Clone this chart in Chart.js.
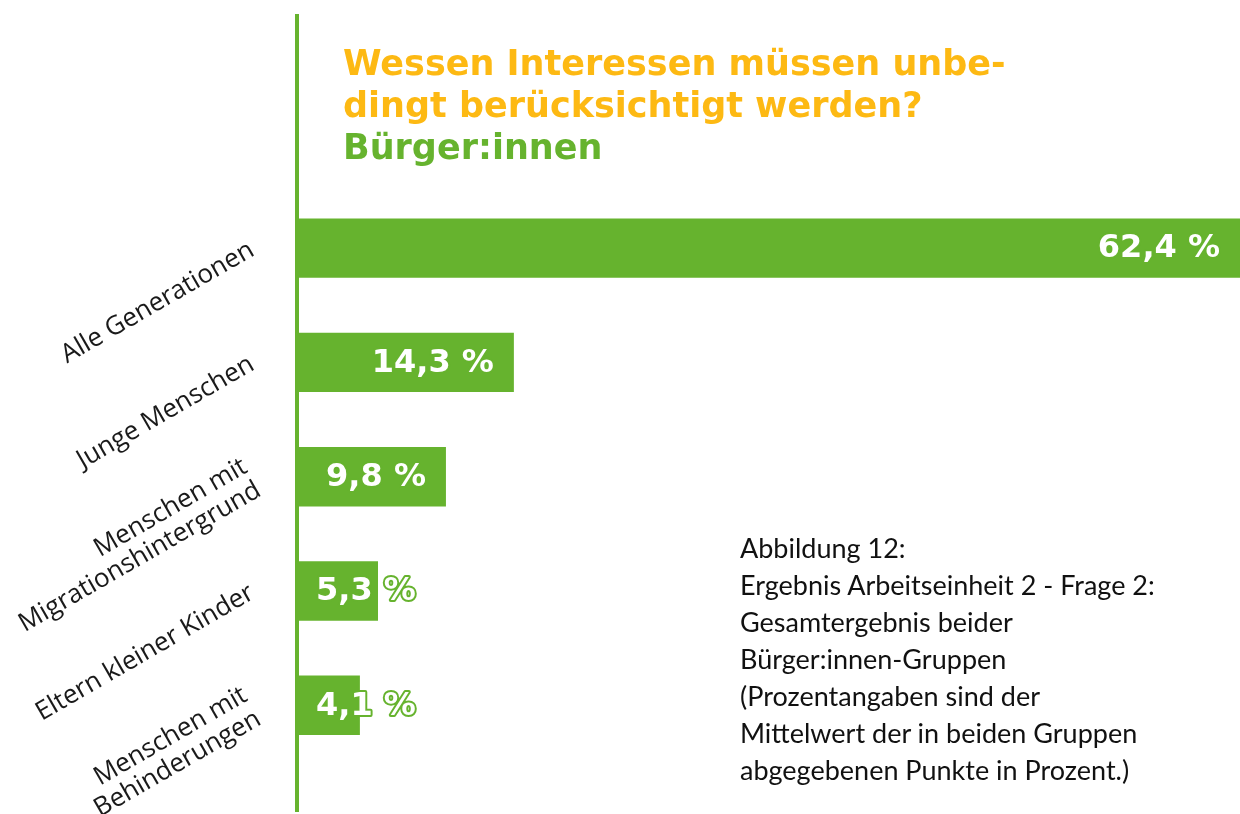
<!DOCTYPE html>
<html>
<head>
<meta charset="utf-8">
<script src="https://cdn.jsdelivr.net/npm/chart.js@4/dist/chart.umd.min.js"></script>
<style>
  body { margin: 0; background: #fff; }
  #wrap { position: relative; width: 1240px; height: 814px; }
  #title { position: absolute; left: 343px; top: 42px; font-family: 'DejaVu Sans', sans-serif; font-weight: bold; font-size: 35px; line-height: 42px; color: #fdb913; white-space: nowrap; }
  #title .sub { color: #66b32e; }
  #caption { position: absolute; left: 740px; top: 529px; font-family: Lato, sans-serif; font-size: 27px; line-height: 37px; color: #111; white-space: nowrap; }
</style>
</head>
<body>
<div id="wrap">
  <canvas id="chart" width="1240" height="814"></canvas>
  <div id="title">Wessen Interessen müssen unbe-<br>dingt berücksichtigt werden?<br><span class="sub">Bürger:innen</span></div>
  <div id="caption">Abbildung 12:<br>Ergebnis Arbeitseinheit 2 - Frage 2:<br>Gesamtergebnis beider<br>Bürger:innen-Gruppen<br>(Prozentangaben sind der<br>Mittelwert der in beiden Gruppen<br>abgegebenen Punkte in Prozent.)</div>
</div>
<script>
const gruppen = [
    'Alle Generationen',
    'Junge Menschen',
    ['Menschen mit', 'Migrationshintergrund'],
    'Eltern kleiner Kinder',
    ['Menschen mit', 'Behinderungen']
];
const anteile = [62.4, 14.3, 9.8, 5.3, 4.1];

const gruen = '#66b32e';

// senkrechte Linie links und Prozentwerte an den Balken
const extras = {
    id: 'extras',
    afterDatasetsDraw(chart) {
        const c = chart.ctx;
        const x0 = chart.chartArea.left;
        c.save();
        c.strokeStyle = gruen;
        c.lineWidth = 4;
        c.beginPath();
        c.moveTo(x0 - 1, 14);
        c.lineTo(x0 - 1, 812);
        c.stroke();

        c.font = 'bold 32px "DejaVu Sans"';
        c.textBaseline = 'middle';
        c.textAlign = 'right';
        c.lineJoin = 'round';
        chart.getDatasetMeta(0).data.forEach((bar, i) => {
            const txt = anteile[i].toFixed(1).replace('.', ',') + ' %';
            const w = c.measureText(txt).width;
            const right = Math.max(bar.x - 20, bar.base + 18 + w);
            c.strokeStyle = gruen;
            c.lineWidth = 4;
            c.strokeText(txt, right, bar.y + 1);
            c.fillStyle = '#fff';
            c.fillText(txt, right, bar.y + 1);
        });
        c.restore();
    }
};

new Chart(document.getElementById('chart').getContext('2d'), {
    type: 'bar',
    data: {
        labels: gruppen,
        datasets: [{
            data: anteile,
            backgroundColor: gruen,
            borderWidth: 0,
            barPercentage: 0.52,
            categoryPercentage: 1
        }]
    },
    options: {
        indexAxis: 'y',
        responsive: false,
        animation: false,
        layout: { padding: { top: 191, bottom: 42, left: 0, right: 0 } },
        scales: {
            x: { display: false, min: 0, max: 62.4 },
            y: {
                grid: { display: false },
                border: { display: false },
                afterFit: (s) => { s.width = 298; },
                ticks: {
                    minRotation: 30,
                    maxRotation: 30,
                    padding: 38,
                    color: '#1a1a1a',
                    font: { family: '"Open Sans"', size: 26, lineHeight: 1.05 }
                }
            }
        },
        plugins: {
            legend: { display: false },
            tooltip: { enabled: false }
        }
    },
    plugins: [extras]
});
</script>
</body>
</html>
